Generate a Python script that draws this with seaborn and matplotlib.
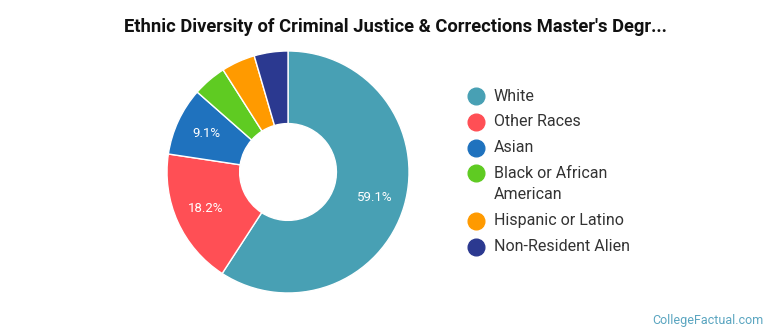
import matplotlib
matplotlib.use("Agg")
import matplotlib.pyplot as plt
from matplotlib.lines import Line2D
import seaborn as sns

# Ethnic breakdown of degree recipients (share in percent)
categories = ["White", "Other Races", "Asian", "Black or African\nAmerican",
              "Hispanic or Latino", "Non-Resident Alien"]
shares = [59.1, 18.2, 9.1, 4.5, 4.5, 4.5]
colors = ["#48A0B4", "#FF4F55", "#1F72BE", "#5FCB22", "#FF9A00", "#2B3990"]
title = "Ethnic Diversity of Criminal Justice & Corrections Master's Degr..."

sns.set_theme(style="white")
plt.rcParams["font.family"] = ["Roboto", "DejaVu Sans"]

W, H = 770, 335
fig = plt.figure(figsize=(W / 100, H / 100), dpi=100)
fig.patch.set_facecolor("white")

ax = fig.add_axes([0.2169, 0.1254, 0.3143, 0.7224])
ax.set_facecolor("white")

# label only the larger slices, using the stated share values
label_iter = iter(shares)


def pct_label(_p):
    v = next(label_iter)
    return f"{v:.1f}%" if v >= 8 else ""


ax.pie(
    shares,
    colors=colors,
    startangle=90,
    counterclock=False,
    radius=1.0,
    pctdistance=0.745,
    autopct=pct_label,
    wedgeprops=dict(width=0.6, edgecolor="white", linewidth=1.0),
    textprops=dict(color="white", fontsize=9.5),
)
ax.set_xlim(-1.0, 1.0)
ax.set_ylim(-1.0, 1.0)
ax.set_aspect("equal")
ax.axis("off")

# legend: circle swatch beside each label, wrapped labels take extra height
row_y = 96
for name, c in zip(categories, colors):
    fig.add_artist(Line2D([476 / W], [1 - row_y / H], marker="o", markersize=12,
                          markerfacecolor=c, markeredgecolor=c,
                          linestyle="none", transform=fig.transFigure))
    lines = name.split("\n")
    for k, line in enumerate(lines):
        fig.text(494 / W, 1 - (row_y + 21.5 * k) / H, line, ha="left",
                 va="center", fontsize=11.5, color="#333333")
    row_y += 25.8 + 21.5 * (len(lines) - 1)

fig.text(0.513, 0.918, title, ha="center", va="center",
         fontsize=13.2, fontweight="bold", color="#111111")
fig.text(0.991, 0.042, "CollegeFactual.com", ha="right", va="center",
         fontsize=9, color="#5AA5C0")

fig.savefig("out.png", dpi=100)
